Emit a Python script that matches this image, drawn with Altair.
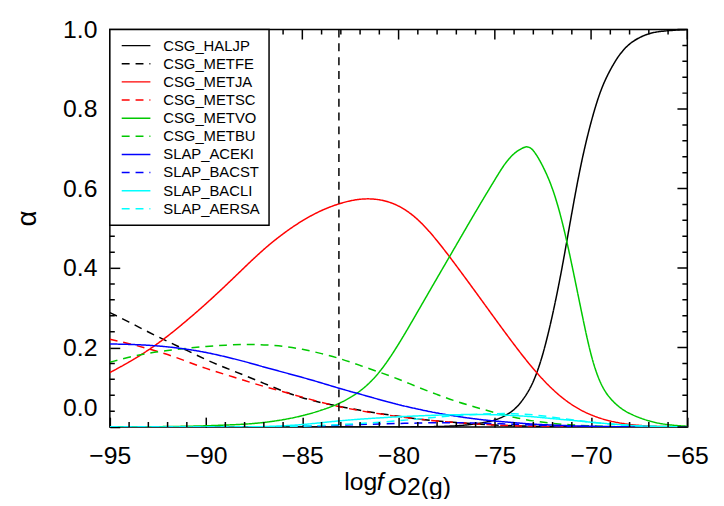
import altair as alt
import pandas as pd

FONT = "Liberation Sans"
W, H = 584, 402

NAMES = ["CSG_HALJP", "CSG_METFE", "CSG_METJA", "CSG_METSC", "CSG_METVO",
         "CSG_METBU", "SLAP_ACEKI", "SLAP_BACST", "SLAP_BACLI", "SLAP_AERSA"]
COLORS = ["#000000", "#000000", "#ff0000", "#ff0000", "#00c800",
          "#00c800", "#0000ff", "#0000ff", "#00ffff", "#00ffff"]
DASHED = [False, True, False, True, False, True, False, True, False, True]

X1 = list(range(-95, -64))  # -95 .. -65

HALJP_X = [-95, -85, -80, -78, -77.5, -77, -76.5, -76, -75.5, -75, -74.5, -74,
           -73.5, -73, -72.5, -72, -71.5, -71, -70.5, -70, -69.5, -69, -68.5,
           -68, -67.5, -67, -66.5, -66, -65.5, -65]
HALJP_Y = [0, 0, 0, 0.001, 0.002, 0.003, 0.005, 0.008, 0.012, 0.017, 0.027, 0.042,
           0.07, 0.11, 0.18, 0.28, 0.40, 0.54, 0.67, 0.77, 0.85, 0.90, 0.94,
           0.965, 0.98, 0.99, 0.995, 0.997, 0.999, 1.0]

METFE = [0.288, 0.264, 0.239, 0.215, 0.193, 0.169, 0.149, 0.13, 0.11, 0.09,
         0.073, 0.061, 0.051, 0.042, 0.034, 0.027, 0.02, 0.015, 0.011, 0.008,
         0.005, 0.003, 0.002, 0.001, 0, 0, 0, 0, 0, 0, 0]

METJA = [0.137, 0.163, 0.193, 0.228, 0.268, 0.31, 0.355, 0.402, 0.448, 0.487,
         0.52, 0.546, 0.564, 0.575, 0.574, 0.559, 0.525, 0.47, 0.406, 0.34,
         0.273, 0.207, 0.145, 0.093, 0.054, 0.029, 0.014, 0.006, 0.002, 0.001, 0.0]

METSC = [0.221, 0.21, 0.197, 0.183, 0.165, 0.147, 0.132, 0.117, 0.102, 0.089,
         0.075, 0.062, 0.05, 0.041, 0.033, 0.026, 0.02, 0.015, 0.011, 0.008,
         0.005, 0.003, 0.002, 0.001, 0, 0, 0, 0, 0, 0, 0]

METVO_X = [-95, -94, -93, -92, -91, -90, -89, -88, -87, -86, -85, -84, -83, -82,
           -81, -80, -79, -78, -77, -76, -75, -74.5, -74, -73.5, -73.3, -73,
           -72.5, -72, -71.5, -71, -70.5, -70, -69.5, -69, -68.5, -68, -67, -66, -65]
METVO_Y = [0, 0, 0.001, 0.001, 0.002, 0.003, 0.005, 0.007, 0.011, 0.018, 0.028,
           0.042, 0.06, 0.088, 0.134, 0.207, 0.291, 0.375, 0.458, 0.542, 0.622,
           0.662, 0.69, 0.704, 0.706, 0.699, 0.657, 0.603, 0.52, 0.41, 0.29,
           0.175, 0.105, 0.07, 0.048, 0.033, 0.014, 0.005, 0.002]

METBU = [0.163, 0.176, 0.186, 0.193, 0.198, 0.203, 0.206, 0.208, 0.207, 0.204,
         0.196, 0.185, 0.172, 0.155, 0.138, 0.121, 0.1, 0.082, 0.064, 0.05,
         0.036, 0.024, 0.015, 0.009, 0.005, 0.003, 0.001, 0, 0, 0, 0]

ACEKI = [0.209, 0.208, 0.206, 0.202, 0.196, 0.188, 0.177, 0.165, 0.151, 0.138,
         0.125, 0.111, 0.096, 0.083, 0.069, 0.056, 0.045, 0.035, 0.027, 0.02,
         0.015, 0.011, 0.007, 0.005, 0.003, 0.002, 0.001, 0, 0, 0, 0]

BACST = [0, 0, 0, 0, 0, 0, 0, 0, 0, 0.001, 0.002, 0.003, 0.005, 0.006, 0.008,
         0.009, 0.01, 0.011, 0.011, 0.01, 0.009, 0.007, 0.005, 0.003, 0.002,
         0.001, 0, 0, 0, 0, 0]

BACLI = [0, 0, 0, 0, 0, 0, 0, 0, 0.001, 0.003, 0.006, 0.011, 0.016, 0.02, 0.023,
         0.026, 0.028, 0.03, 0.031, 0.032, 0.031, 0.029, 0.026, 0.021, 0.017,
         0.012, 0.008, 0.004, 0.002, 0.001, 0]

AERSA = [0, 0, 0, 0, 0, 0, 0, 0, 0, 0, 0.002, 0.004, 0.006, 0.009, 0.012, 0.016,
         0.02, 0.025, 0.029, 0.032, 0.034, 0.034, 0.031, 0.025, 0.018, 0.012,
         0.007, 0.004, 0.002, 0.001, 0]

VLINE_X = [-83.1]

X_MAJOR = [-95, -90, -85, -80, -75, -70, -65]
X_MINOR = [v for v in range(-95, -64) if v % 5 != 0]
Y_MAJOR = [0.0, 0.2, 0.4, 0.6, 0.8, 1.0]
Y_MINOR = [round(i * 0.04, 2) for i in range(26) if i % 5 != 0]

SERIES = {
    "CSG_HALJP": (HALJP_X, HALJP_Y),
    "CSG_METFE": (X1, METFE),
    "CSG_METJA": (X1, METJA),
    "CSG_METSC": (X1, METSC),
    "CSG_METVO": (METVO_X, METVO_Y),
    "CSG_METBU": (X1, METBU),
    "SLAP_ACEKI": (X1, ACEKI),
    "SLAP_BACST": (X1, BACST),
    "SLAP_BACLI": (X1, BACLI),
    "SLAP_AERSA": (X1, AERSA),
}

rows = []
for name in NAMES:
    xs, ys = SERIES[name]
    for xv, yv in zip(xs, ys):
        rows.append({"name": name, "v": xv, "a": yv})
df = pd.DataFrame(rows)

DASH = [[8, 6] if d else [1, 0] for d in DASHED]

XD = [-95, -65]
YD = [0, 1]
XS = alt.Scale(domain=XD, nice=False, zero=False)
YS = alt.Scale(domain=YD, nice=False, zero=False)
CS = alt.Scale(domain=NAMES, range=COLORS)
DS = alt.Scale(domain=NAMES, range=DASH)

# major ticks drawn by the axes themselves, moved inside the frame by a negative
# offset so that they point inward
X_AXIS = alt.Axis(
    values=X_MAJOR, format="d", title=None, ticks=True, tickSize=10, tickWidth=1.5,
    tickColor="black", offset=-10, domain=False,
    grid=False, labelFont=FONT, labelFontSize=25, labelColor="black",
    labelPadding=17, labelFlush=False, labelOverlap=False)
Y_AXIS = alt.Axis(
    values=Y_MAJOR, format=".1f", title=None, ticks=True, tickSize=10, tickWidth=1.5,
    tickColor="black", offset=-10, domain=False,
    grid=False, labelFont=FONT, labelFontSize=25, labelColor="black",
    labelPadding=13, labelFlush=False, labelOverlap=False,
    labelOffset={"condition": {"test": "datum.value === 0", "value": -20}, "value": 0})


def XE(field):
    return alt.X(f"{field}:Q", scale=XS, axis=X_AXIS)


def YE(field):
    return alt.Y(f"{field}:Q", scale=YS, axis=Y_AXIS)


COLOR = alt.Color("name:N", scale=CS, legend=None)
DASHENC = alt.StrokeDash("name:N", scale=DS, legend=None)

lines = alt.Chart(df).mark_line(strokeWidth=1.5, clip=True, interpolate="basis").encode(
    x=XE("v"), y=YE("a"), color=COLOR, strokeDash=DASHENC, detail="name:N",
)

vline = alt.Chart(pd.DataFrame({"v": VLINE_X})).mark_rule(
    color="black", strokeWidth=1.5, strokeDash=[8, 6]).encode(x=XE("v"))


# remaining tick marks, built like the legend symbols
def yticks(vals, x0, x1):
    d = pd.DataFrame({"name": [NAMES[0]] * len(vals), "a": vals})
    return alt.Chart(d).mark_rule(strokeWidth=1.5).encode(
        y=YE("a"), x=alt.value(x0), x2=alt.value(x1), color=COLOR, strokeDash=DASHENC)


def xticks(vals, y0, y1):
    d = pd.DataFrame({"name": [NAMES[0]] * len(vals), "v": vals})
    return alt.Chart(d).mark_rule(strokeWidth=1.5).encode(
        x=XE("v"), y=alt.value(y0), y2=alt.value(y1), color=COLOR, strokeDash=DASHENC)


ticks = [
    yticks(Y_MAJOR, W, W - 10), yticks(Y_MINOR, W, W - 5), yticks(Y_MINOR, 0, 5),
    xticks(X_MAJOR, 0, 10), xticks(X_MINOR, 0, 5), xticks(X_MINOR, H, H - 5),
]

# legend: one row per series, rows 18.33 px apart starting 16.3 px below the top
LEG_A = [round(1 - (16.3 + 18.33 * i) / H, 4) for i in range(len(NAMES))]
leg_df = pd.DataFrame({"name": NAMES, "a": LEG_A})
leg_box = alt.Chart(pd.DataFrame({"k": [0]})).mark_rect(
    fill="white", stroke="black", strokeWidth=1.5).encode(
    x=alt.value(0), x2=alt.value(161), y=alt.value(0), y2=alt.value(198))
leg_lines = alt.Chart(leg_df).mark_rule(strokeWidth=1.5).encode(
    y=YE("a"), x=alt.value(12), x2=alt.value(41), color=COLOR, strokeDash=DASHENC,
)
leg_text = alt.Chart(leg_df).mark_text(
    align="left", baseline="middle", font=FONT, fontSize=15, color="black").encode(
    y=YE("a"), x=alt.value(54), text="name:N")

# axis titles
ytitle = alt.Chart(pd.DataFrame({"t": ["α"]})).mark_text(
    angle=270, align="center", baseline="middle", font=FONT, fontSize=28,
    color="black").encode(x=alt.value(-83), y=alt.value(191), text="t:N")
xt_log = alt.Chart(pd.DataFrame({"t": ["log"]})).mark_text(
    align="left", baseline="alphabetic", font=FONT, fontSize=25,
    color="black").encode(x=alt.value(237), y=alt.value(466), text="t:N")
xt_f = alt.Chart(pd.DataFrame({"t": ["f"]})).mark_text(
    align="left", baseline="alphabetic", font=FONT, fontSize=25, fontStyle="italic",
    color="black").encode(x=alt.value(270), y=alt.value(466), text="t:N")
xt_sub = alt.Chart(pd.DataFrame({"t": ["O2(g)"]})).mark_text(
    align="left", baseline="alphabetic", font=FONT, fontSize=25,
    color="black").encode(x=alt.value(281), y=alt.value(471), text="t:N")

chart = alt.layer(
    lines, vline, *ticks, leg_box, leg_lines, leg_text, ytitle, xt_log, xt_f, xt_sub
).properties(
    width=W, height=H,
    padding={"left": 103, "top": 19, "right": 29, "bottom": 70},
    autosize=alt.AutoSizeParams(type="none"),
).configure_view(stroke="black", strokeWidth=1.5)

chart.save("out.html", embed_options={"renderer": "svg", "actions": False})
